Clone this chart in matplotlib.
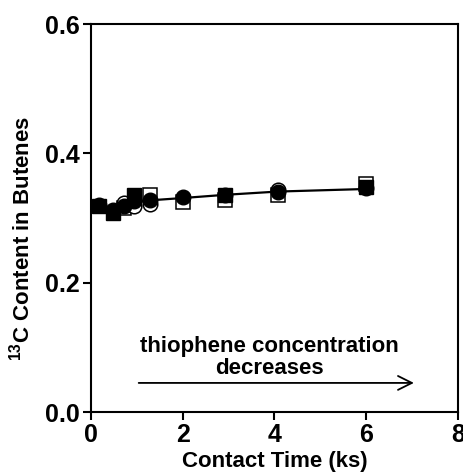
import matplotlib
matplotlib.use("Agg")
import matplotlib.pyplot as plt

# Data
x_fc = [0.17, 0.48, 0.72, 0.93, 1.28, 2.0, 2.93, 4.07, 6.0]
y_fc = [0.320, 0.312, 0.318, 0.326, 0.328, 0.332, 0.335, 0.340, 0.346]

x_fs = [0.17, 0.48, 0.93, 2.93, 6.0]
y_fs = [0.318, 0.308, 0.335, 0.336, 0.348]

x_oc = [0.72, 0.93, 1.28, 4.07]
y_oc = [0.323, 0.318, 0.322, 0.344]

x_os = [0.72, 1.28, 2.0, 2.93, 4.07, 6.0]
y_os = [0.316, 0.335, 0.325, 0.328, 0.336, 0.352]

x_line = [0.0, 0.48, 1.0, 2.0, 2.93, 4.07, 6.0]
y_line = [0.318, 0.315, 0.326, 0.331, 0.336, 0.341, 0.345]

xticks = [0, 2, 4, 6, 8]
yticks = [0.0, 0.2, 0.4, 0.6]

plt.rcParams['font.family'] = ['Liberation Sans', 'DejaVu Sans']
plt.rcParams['mathtext.fontset'] = 'custom'
plt.rcParams['mathtext.rm'] = 'Liberation Sans:bold'

fig = plt.figure(figsize=(4.64, 4.75), dpi=100)
ax = fig.add_axes([0.196, 0.1326, 0.791, 0.8166])

ax.plot(x_line, y_line, color='black', lw=1.6, zorder=2)
ax.plot(x_os, y_os, 's', mfc='white', mec='black', ms=9.5, mew=1.1, zorder=3)
ax.plot(x_oc, y_oc, 'o', mfc='white', mec='black', ms=10.5, mew=1.1, zorder=3)
ax.plot(x_fs, y_fs, 's', mfc='black', mec='black', ms=9.5, zorder=4)
ax.plot(x_fc, y_fc, 'o', mfc='black', mec='black', ms=10.5, zorder=5)

ax.set_xlim(0, 8)
ax.set_ylim(0, 0.6)
ax.set_xticks(xticks)
ax.set_yticks(yticks)
ax.set_xticklabels([str(t) for t in xticks], fontsize=18, fontweight='bold')
ax.set_yticklabels([f"{t:.1f}" for t in yticks], fontsize=18, fontweight='bold')
ax.tick_params(direction='out', length=6, width=1.5, pad=2)
for s in ax.spines.values():
    s.set_linewidth(1.5)

ax.set_xlabel('Contact Time (ks)', fontsize=16, fontweight='bold', labelpad=3)
ax.set_ylabel('$\\mathregular{^{13}}$C Content in Butenes', fontsize=16, fontweight='bold')
ax.yaxis.set_label_coords(-0.155, 0.448)

ax.annotate('', xy=(7.1, 0.045), xytext=(0.98, 0.045),
            arrowprops=dict(arrowstyle='->', color='black', lw=1.3, mutation_scale=25))
ax.text(3.9, 0.051, 'thiophene concentration\ndecreases', ha='center', va='bottom',
        fontsize=16, fontweight='bold', linespacing=1.05)

fig.savefig('out.png', dpi=100)
